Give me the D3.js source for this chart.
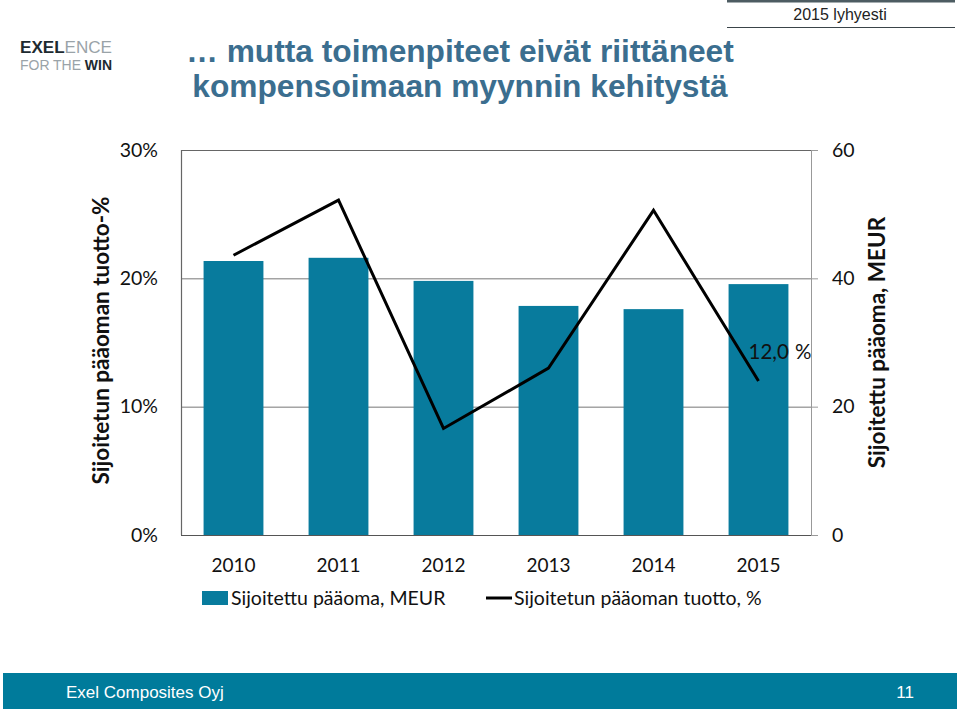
<!DOCTYPE html>
<html><head><meta charset="utf-8">
<script src="https://cdn.jsdelivr.net/npm/d3@7"></script>
<style>body{margin:0;background:#fff}svg{display:block}</style>
</head><body>
<svg id="c" width="960" height="711"></svg>
<script>
const years = ["2010","2011","2012","2013","2014","2015"];
const capital = [42.7, 43.2, 39.6, 35.7, 35.2, 39.1];
const roce = [21.8, 26.1, 8.3, 13.0, 25.3, 12.0];
const leftTicks = [0, 10, 20, 30];
const rightTicks = [0, 20, 40, 60];
const seriesNames = ["Sijoitettu pääoma, MEUR", "Sijoitetun pääoman tuotto, %"];

const svg = d3.select("#c");
const M = {l:181, r:811, t:150, b:535};
const midY = (M.t + M.b) / 2;
const x = d3.scaleBand().domain(years).range([M.l, M.r]).paddingInner(0.43).paddingOuter(0.215);
const xc = d3.scaleBand().domain(years).range([M.l, M.r]);
const yL = d3.scaleLinear().domain([0,30]).range([M.b, M.t]);
const yR = d3.scaleLinear().domain([0,60]).range([M.b, M.t]);
const font = "Lato, 'Open Sans', sans-serif";
const barCol = "#087b9d";
const arial = "'Liberation Sans', Arial, sans-serif";

// header logo
const logo = svg.append("g").attr("font-family",arial);
const l1 = logo.append("text").attr("x",20).attr("y",53).attr("font-size",17).attr("textLength",92).attr("lengthAdjust","spacingAndGlyphs");
l1.append("tspan").attr("fill","#1d2a30").attr("font-weight","bold").text("EXEL");
l1.append("tspan").attr("fill","#9aa3a8").text("ENCE");
const l2 = logo.append("text").attr("x",20).attr("y",70).attr("font-size",14.5).attr("textLength",92).attr("lengthAdjust","spacingAndGlyphs");
l2.append("tspan").attr("fill","#9aa3a8").text("FOR THE ");
l2.append("tspan").attr("fill","#1d2a30").attr("font-weight","bold").text("WIN");

// title
const title = svg.append("g").attr("font-family",arial)
  .attr("font-weight","bold").attr("font-size",31.7).attr("fill","#3b6e8f").attr("text-anchor","middle");
title.append("text").attr("x",460).attr("y",62).text("… mutta toimenpiteet eivät riittäneet");
title.append("text").attr("x",460).attr("y",97).text("kompensoimaan myynnin kehitystä");

// top-right section label
svg.append("rect").attr("x",727).attr("y",0).attr("width",228).attr("height",2.5).attr("fill","#4d5c62");
svg.append("line").attr("x1",727).attr("x2",955).attr("y1",27.5).attr("y2",27.5).attr("stroke","#3a4449").attr("stroke-width",1.2);
svg.append("text").attr("x",840).attr("y",20).attr("text-anchor","middle").attr("font-family",arial)
  .attr("font-size",16).attr("fill","#222").text("2015 lyhyesti");

// gridlines
svg.append("g").selectAll("line").data(leftTicks.filter(d=>d>0&&d<30)).join("line")
  .attr("x1",M.l).attr("x2",M.r).attr("y1",d=>yL(d)+0.5).attr("y2",d=>yL(d)+0.5)
  .attr("stroke","#777").attr("stroke-width",1);

// bars
svg.append("g").selectAll("rect").data(years).join("rect")
  .attr("x",d=>x(d)).attr("width",x.bandwidth())
  .attr("y",(d,i)=>yR(capital[i])).attr("height",(d,i)=>M.b-yR(capital[i]))
  .attr("fill",barCol);

// frame: top, left, bottom
svg.append("line").attr("x1",M.l).attr("x2",M.r).attr("y1",M.t+0.5).attr("y2",M.t+0.5).attr("stroke","#666").attr("stroke-width",1.2);
svg.append("line").attr("x1",M.l+0.5).attr("x2",M.l+0.5).attr("y1",M.t).attr("y2",M.b).attr("stroke","#666").attr("stroke-width",1.2);
svg.append("line").attr("x1",M.l).attr("x2",M.r).attr("y1",M.b+0.5).attr("y2",M.b+0.5).attr("stroke","#555").attr("stroke-width",1.2);

// right axis
const ra = svg.append("g").attr("transform","translate(" + M.r + ",0)")
  .call(d3.axisRight(yR).tickValues(rightTicks).tickSize(7).tickPadding(14).tickFormat(d3.format("d")));
ra.select(".domain").attr("stroke","#999").attr("d","M0.5," + M.t + "V" + M.b);
ra.selectAll(".tick line").attr("stroke","#999");
ra.selectAll("text").attr("font-family",font).attr("font-size",19.5).attr("fill","#111");

// left axis labels
const la = svg.append("g").attr("transform","translate(" + M.l + ",0)")
  .call(d3.axisLeft(yL).tickValues(leftTicks).tickSize(0).tickPadding(23).tickFormat(d=>d+"%"));
la.select(".domain").remove();
la.selectAll("text").attr("font-family",font).attr("font-size",19.5).attr("fill","#111");

// x axis labels
const xa = svg.append("g").attr("transform","translate(0," + M.b + ")")
  .call(d3.axisBottom(xc).tickSize(0).tickPadding(24));
xa.select(".domain").remove();
xa.selectAll("text").attr("font-family",font).attr("font-size",19).attr("fill","#111");

// line
const line = d3.line().x((d,i)=>xc(years[i])+xc.bandwidth()/2).y(d=>yL(d));
svg.append("path").datum(roce).attr("d",line).attr("fill","none").attr("stroke","#000").attr("stroke-width",3);

// data label for last point
svg.append("text").attr("x",xc(years[5])+xc.bandwidth()/2-10).attr("y",yL(roce[5])-22)
  .attr("font-family",font).attr("font-size",20.5).attr("fill","#111").attr("word-spacing","1")
  .text(d3.format(".1f")(roce[5]).replace(".",",")+" %");

// axis titles
svg.append("text").attr("transform","translate(109," + (midY-2) + ") rotate(-90)").attr("text-anchor","middle")
  .attr("font-family",font).attr("font-weight","bold").attr("font-size",22.5).attr("fill","#111").text("Sijoitetun pääoman tuotto-%");
svg.append("text").attr("transform","translate(885," + midY + ") rotate(-90)").attr("text-anchor","middle")
  .attr("font-family",font).attr("font-weight","bold").attr("font-size",22.5).attr("fill","#111").text("Sijoitettu pääoma, MEUR");

// legend
const lg = svg.append("g").attr("font-family",font).attr("font-size",19.5).attr("fill","#111");
lg.append("rect").attr("x",202).attr("y",591).attr("width",26).attr("height",14).attr("fill",barCol);
lg.append("text").attr("x",231).attr("y",605).text(seriesNames[0]);
lg.append("line").attr("x1",486).attr("x2",512).attr("y1",598).attr("y2",598).attr("stroke","#000").attr("stroke-width",3);
lg.append("text").attr("x",514).attr("y",605).text(seriesNames[1]);

// footer
svg.append("rect").attr("x",3).attr("y",673).attr("width",954).attr("height",36).attr("fill","#007b9b");
svg.append("text").attr("x",66).attr("y",698).attr("font-family",arial).attr("font-size",17).attr("fill","#fff").text("Exel Composites Oyj");
svg.append("text").attr("x",914).attr("y",698).attr("text-anchor","end").attr("font-family",arial).attr("font-size",17).attr("fill","#fff").text("11");
</script>
</body></html>
